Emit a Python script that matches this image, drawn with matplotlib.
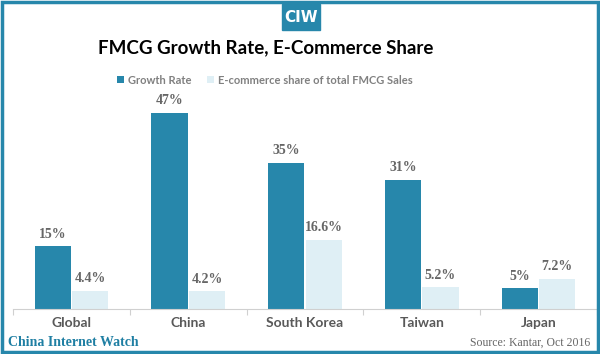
import numpy as np
import matplotlib.pyplot as plt
from matplotlib.patches import Rectangle

categories = ['Global', 'China', 'South Korea', 'Taiwan', 'Japan']
growth_rate = [15, 47, 35, 31, 5]
ecom_share = [4.4, 4.2, 16.6, 5.2, 7.2]
growth_labels = ['15%', '47%', '35%', '31%', '5%']
ecom_labels = ['4.4%', '4.2%', '16.6%', '5.2%', '7.2%']

dark = '#2787ab'
light = '#dfeff5'
grey = '#666666'

fig = plt.figure(figsize=(6, 3.54), dpi=100)
ax = fig.add_axes([13 / 600, 45 / 354, 584 / 600, 209 / 354])

x = np.arange(len(categories))
w = 0.31
ax.bar(x - 0.16, growth_rate, w, color=dark, label='Growth Rate')
ax.bar(x + 0.16, ecom_share, w, color=light, label='E-commerce share of total FMCG Sales')

for xi, v, t in zip(x, growth_rate, growth_labels):
    ax.annotate(t, (xi - 0.16, v), xytext=(0, 4), textcoords='offset points',
                ha='center', va='bottom', fontsize=10, fontweight='bold',
                family='Liberation Serif', color=grey)
for xi, v, t in zip(x, ecom_share, ecom_labels):
    ax.annotate(t, (xi + 0.16, v), xytext=(0, 4), textcoords='offset points',
                ha='center', va='bottom', fontsize=10, fontweight='bold',
                family='Liberation Serif', color=grey)

ax.set_xlim(-0.5, 4.5)
ax.set_ylim(0, 50.1)
ax.set_yticks([])
for s in ['top', 'right', 'left']:
    ax.spines[s].set_visible(False)
ax.spines['bottom'].set_color('#d0d0d0')
ax.set_xticks(np.arange(-0.5, 5, 1), minor=False)
ax.set_xticklabels([])
ax.tick_params(axis='x', length=4, color='#d0d0d0', direction='out')
ax.set_xticks(x, minor=True)
ax.set_xticklabels(categories, minor=True)
ax.tick_params(axis='x', which='minor', length=0, pad=6, labelsize=10,
               labelcolor='#595959')
for lbl in ax.get_xticklabels(minor=True):
    lbl.set_family('Lato')
    lbl.set_fontweight('bold')

ax.legend(loc='center', bbox_to_anchor=(265 / 600, 1 - 80 / 354), bbox_transform=fig.transFigure,
          ncol=2, frameon=False, handlelength=0.6, handleheight=0.6, handletextpad=0.4,
          columnspacing=1.4, prop={'family': 'Lato', 'size': 8, 'weight': 'bold'},
          labelcolor='#808080')

fig.text(266 / 600, 1 - 48 / 354, 'FMCG Growth Rate, E-Commerce Share', ha='center', va='center',
         fontsize=13.5, fontweight='bold', family='Lato', color='black')

# logo box
fig.patches.append(Rectangle((282 / 600, 1 - 30 / 354), 38 / 600, 26 / 354,
                             transform=fig.transFigure, color=dark))
fig.text(301 / 600, 1 - 17 / 354, 'CIW', ha='center', va='center', fontsize=11,
         fontweight='bold', family='DejaVu Sans', color='white')

fig.text(8 / 600, 1 - 343 / 354, 'China Internet Watch', ha='left', va='center',
         fontsize=10, fontweight='bold', family='Liberation Serif', color='#1f7fa3')
fig.text(590 / 600, 1 - 343 / 354, 'Source: Kantar, Oct 2016', ha='right', va='center',
         fontsize=8.5, family='Liberation Serif', color=grey)

# frame
fig.patches.append(Rectangle((2 / 600, 2 / 354), 596 / 600, 350 / 354, transform=fig.transFigure,
                             fill=False, edgecolor=dark, linewidth=2.5))

fig.savefig('out.png', dpi=100)
